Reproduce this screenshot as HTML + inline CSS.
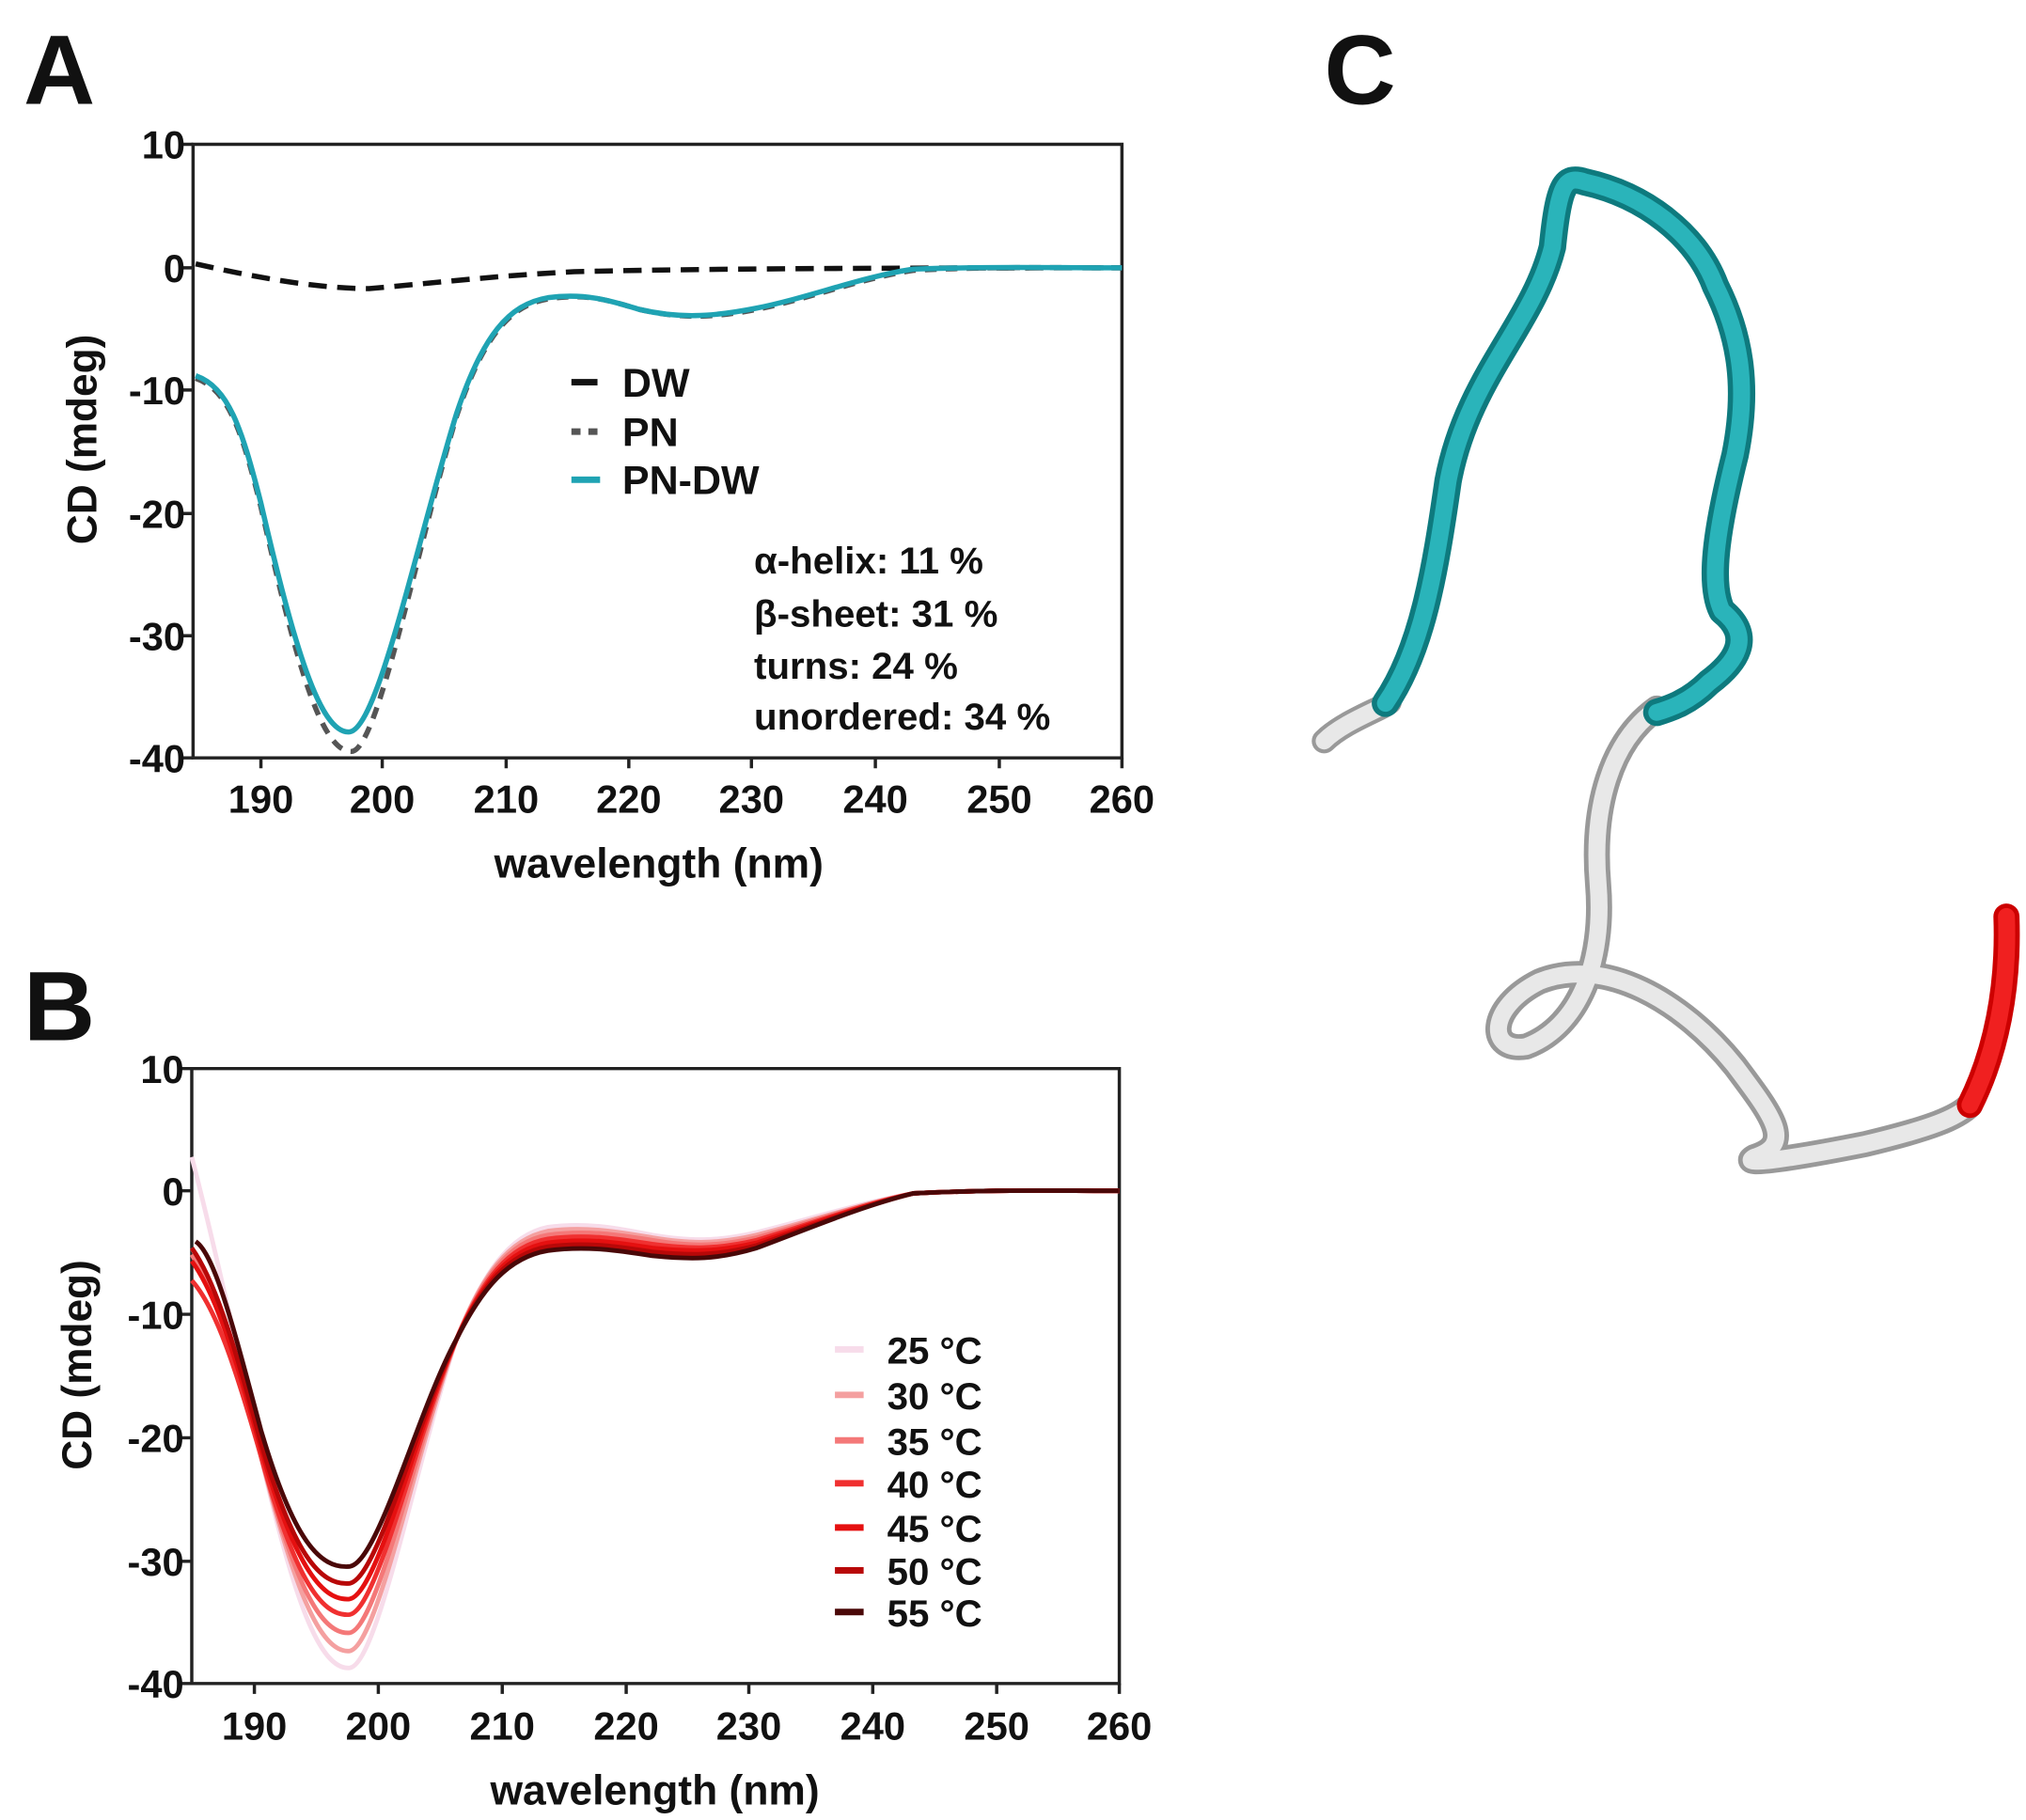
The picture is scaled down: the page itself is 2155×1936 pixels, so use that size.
<!DOCTYPE html>
<html><head><meta charset="utf-8"><style>
html,body{margin:0;padding:0;background:#fff;}
svg{display:block;}
text{font-family:"Liberation Sans",Arial,sans-serif;font-weight:bold;fill:#111;}
</style></head><body>
<svg width="2155" height="1936" viewBox="0 0 1553 1400" preserveAspectRatio="none" xmlns="http://www.w3.org/2000/svg">
<text x="18" y="80" font-size="76">A</text>
<text x="18" y="800" font-size="76">B</text>
<text x="1015" y="80" font-size="76">C</text>

<g stroke="#222" stroke-width="2.5" fill="none">
<path d="M148,111 H860 V583 H148 Z"/>
<path d="M140,111H148M140,206H148M140,300H148M140,395H148M140,489H148M140,583H148"/>
<path d="M200,583v8M293,583v8M388,583v8M482,583v8M576,583v8M671,583v8M766,583v8M860,583v8"/>
</g>
<g font-size="30" text-anchor="end">
<text x="142" y="122">10</text><text x="142" y="217">0</text><text x="142" y="311">-10</text>
<text x="142" y="406">-20</text><text x="142" y="500">-30</text><text x="142" y="594">-40</text>
</g>
<g font-size="30" text-anchor="middle">
<text x="200" y="625">190</text><text x="293" y="625">200</text><text x="388" y="625">210</text><text x="482" y="625">220</text>
<text x="576" y="625">230</text><text x="671" y="625">240</text><text x="766" y="625">250</text><text x="860" y="625">260</text>
</g>
<text x="505" y="675" font-size="32" text-anchor="middle">wavelength (nm)</text>
<text transform="translate(74,338) rotate(-90)" font-size="32" text-anchor="middle">CD (mdeg)</text>

<path d="M150,203 C190,212 240,222 283,222 C330,218 380,212 440,209 C520,207 650,206 860,206" stroke="#111" stroke-width="4" fill="none" stroke-dasharray="14,8"/>
<path d="M150,291 C175,300 185,330 200,390 C225,500 245,580 270,578 C290,575 320,420 350,320 C370,260 390,235 420,230 C450,225 470,232 490,238 C520,245 545,245 580,238 C620,230 660,214 700,208 C760,205 800,206 860,206" stroke="#555" stroke-width="4" fill="none" stroke-dasharray="9,7"/>
<path d="M150,289 C175,298 185,328 200,387 C225,495 245,565 268,563 C290,560 320,415 350,318 C370,258 390,234 420,229 C450,225 470,232 490,238 C520,245 545,244 580,237 C620,229 660,213 700,207 C760,205 800,206 860,206" stroke="#1fa3b3" stroke-width="4" fill="none"/>

<g stroke-width="5"><path d="M438,294h20" stroke="#111"/><path d="M438,332h22" stroke="#555" stroke-dasharray="7,6"/><path d="M438,369h22" stroke="#1fa3b3"/></g>
<g font-size="31"><text x="477" y="305">DW</text><text x="477" y="343">PN</text><text x="477" y="380">PN-DW</text></g>
<g font-size="29">
<text x="578" y="441">α-helix: 11 %</text><text x="578" y="482">β-sheet: 31 %</text>
<text x="578" y="522">turns: 24 %</text><text x="578" y="561">unordered: 34 %</text>
</g>

<g stroke="#222" stroke-width="2.5" fill="none">
<path d="M147,822 H858 V1295 H147 Z"/>
<path d="M139,822H147M139,916H147M139,1011H147M139,1106H147M139,1201H147M139,1295H147"/>
<path d="M195,1295v8M290,1295v8M385,1295v8M480,1295v8M574,1295v8M669,1295v8M764,1295v8M858,1295v8"/>
</g>
<g font-size="30" text-anchor="end">
<text x="141" y="833">10</text><text x="141" y="927">0</text><text x="141" y="1022">-10</text>
<text x="141" y="1117">-20</text><text x="141" y="1212">-30</text><text x="141" y="1306">-40</text>
</g>
<g font-size="30" text-anchor="middle">
<text x="195" y="1338">190</text><text x="290" y="1338">200</text><text x="385" y="1338">210</text><text x="480" y="1338">220</text>
<text x="574" y="1338">230</text><text x="669" y="1338">240</text><text x="764" y="1338">250</text><text x="858" y="1338">260</text>
</g>
<text x="502" y="1388" font-size="32" text-anchor="middle">wavelength (nm)</text>
<text transform="translate(70,1050) rotate(-90)" font-size="32" text-anchor="middle">CD (mdeg)</text>

<g fill="none" stroke-width="3.5">
<path d="M147,890 C165,960 180,1030 200,1120 C225,1230 245,1285 268,1283 C290,1280 320,1120 350,1030 C370,980 390,950 420,944 C450,940 475,945 500,950 C530,955 550,955 580,948 C620,938 660,925 700,918 C760,915 800,916 858,916" stroke="#f7dcea"/>
<path d="M147,960 C165,990 180,1040 200,1120 C225,1220 245,1272 268,1270 C290,1266 320,1110 350,1030 C370,980 390,953 420,947 C450,943 475,948 500,952 C530,957 550,957 580,950 C620,940 660,926 700,918 C760,915 800,916 858,916" stroke="#f4a0a0"/>
<path d="M147,965 C165,995 180,1045 200,1120 C225,1215 245,1258 268,1256 C290,1252 320,1105 350,1030 C370,982 390,955 420,950 C450,946 475,950 500,954 C530,959 550,959 580,952 C620,941 660,926 700,918 C760,915 800,916 858,916" stroke="#f47878"/>
<path d="M147,985 C165,1005 180,1050 200,1120 C225,1210 245,1244 268,1242 C290,1238 320,1100 350,1030 C370,984 390,958 420,953 C450,949 475,953 500,957 C530,961 550,961 580,954 C620,942 660,927 700,918 C760,915 800,916 858,916" stroke="#f03030"/>
<path d="M147,970 C165,995 180,1040 200,1115 C225,1200 245,1232 268,1230 C290,1226 320,1095 350,1030 C370,986 390,961 420,956 C450,952 475,956 500,960 C530,963 550,963 580,956 C620,943 660,927 700,918 C760,915 800,916 858,916" stroke="#e51010"/>
<path d="M147,960 C165,985 180,1035 200,1110 C225,1195 245,1220 268,1218 C290,1214 320,1090 350,1030 C370,988 390,964 420,959 C450,955 475,959 500,963 C530,966 550,966 580,958 C620,944 660,928 700,918 C760,915 800,916 858,916" stroke="#b80808"/>
<path d="M150,955 C165,965 180,1025 200,1100 C225,1185 245,1207 268,1205 C290,1202 320,1085 350,1030 C370,990 390,967 420,962 C450,958 475,962 500,966 C530,969 550,969 580,960 C620,945 660,928 700,918 C760,915 800,916 858,916" stroke="#4a0808"/>
</g>
<g stroke-width="5">
<path d="M640,1038h22" stroke="#f7dcea"/><path d="M640,1073h22" stroke="#f4a0a0"/><path d="M640,1108h22" stroke="#f47878"/>
<path d="M640,1141h22" stroke="#f03030"/><path d="M640,1175h22" stroke="#e51010"/><path d="M640,1208h22" stroke="#b80808"/><path d="M640,1240h22" stroke="#4a0808"/>
</g>
<g font-size="29">
<text x="680" y="1049">25 °C</text><text x="680" y="1084">30 °C</text><text x="680" y="1119">35 °C</text>
<text x="680" y="1152">40 °C</text><text x="680" y="1186">45 °C</text><text x="680" y="1219">50 °C</text><text x="680" y="1251">55 °C</text>
</g>

<g fill="none" stroke-linecap="round" stroke-linejoin="round">
<path d="M1270,545 C1235,570 1220,620 1225,680 C1230,740 1210,790 1170,805 C1140,810 1140,775 1180,755 C1230,735 1290,770 1330,820 C1360,860 1375,880 1345,890 C1330,898 1380,890 1430,880 C1480,868 1500,860 1510,850" stroke="#999" stroke-width="20"/>
<path d="M1270,545 C1235,570 1220,620 1225,680 C1230,740 1210,790 1170,805 C1140,810 1140,775 1180,755 C1230,735 1290,770 1330,820 C1360,860 1375,880 1345,890 C1330,898 1380,890 1430,880 C1480,868 1500,860 1510,850" stroke="#e8e8e8" stroke-width="13"/>
<path d="M1510,850 C1530,810 1540,760 1538,705" stroke="#c00" stroke-width="20"/>
<path d="M1510,850 C1530,810 1540,760 1538,705" stroke="#f02020" stroke-width="13"/>
<path d="M1015,570 C1030,555 1060,545 1065,540" stroke="#999" stroke-width="19"/>
<path d="M1015,570 C1030,555 1060,545 1065,540" stroke="#e8e8e8" stroke-width="13"/>
<path d="M1062,541 C1090,500 1100,440 1110,370 C1125,290 1175,250 1190,190 C1195,140 1200,135 1215,140 C1260,150 1300,180 1315,220 C1335,260 1340,300 1330,350 C1315,410 1310,450 1320,470 C1345,490 1330,510 1310,525 C1295,540 1280,545 1270,548" stroke="#0e7a7e" stroke-width="21"/>
<path d="M1062,541 C1090,500 1100,440 1110,370 C1125,290 1175,250 1190,190 C1195,140 1200,135 1215,140 C1260,150 1300,180 1315,220 C1335,260 1340,300 1330,350 C1315,410 1310,450 1320,470 C1345,490 1330,510 1310,525 C1295,540 1280,545 1270,548" stroke="#2ab4ba" stroke-width="13"/>
</g>
</svg>
</body></html>
